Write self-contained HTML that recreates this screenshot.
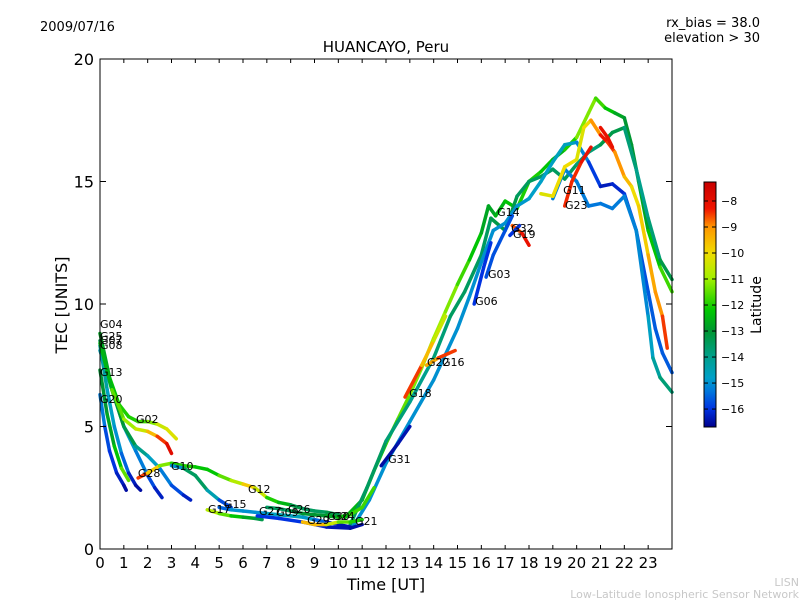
<!DOCTYPE html>
<html><head><meta charset="utf-8"><style>
body{margin:0;background:#fff;}
svg text{font-family:"DejaVu Sans","Liberation Sans",sans-serif;}
</style></head><body>
<svg id="chart" width="800" height="600" xmlns="http://www.w3.org/2000/svg">
<rect width="800" height="600" fill="#fff"/>
<text x="40" y="31" font-size="13">2009/07/16</text>
<text x="760" y="27" font-size="13" text-anchor="end">rx_bias = 38.0</text>
<text x="760" y="42" font-size="13" text-anchor="end">elevation &gt; 30</text>
<text x="386" y="52" font-size="15" text-anchor="middle">HUANCAYO, Peru</text>
<text transform="translate(67,305) rotate(-90)" font-size="16" text-anchor="middle">TEC [UNITS]</text>
<text x="386" y="590" font-size="16" text-anchor="middle">Time [UT]</text>
<text x="799" y="586" font-size="11" fill="#c8c8c8" text-anchor="end">LISN</text>
<text x="799" y="598" font-size="11" fill="#c8c8c8" text-anchor="end">Low-Latitude Ionospheric Sensor Network</text>
<g id="tracks"></g>
<g id="labels"></g>
<rect x="100" y="59" width="572" height="490" fill="none" stroke="#000" stroke-width="1"/>
<g id="axes"></g>
<defs><linearGradient id="jet" x1="0" y1="1" x2="0" y2="0" id2="g"></linearGradient></defs>
<g id="colorbar">
<rect x="704" y="182" width="12" height="245" fill="url(#jet)" stroke="#000" stroke-width="1"/>
<text transform="translate(761,305) rotate(-90)" font-size="14" text-anchor="middle">Latitude</text>
</g>
</svg>
<script>
const xTicks=[0,1,2,3,4,5,6,7,8,9,10,11,12,13,14,15,16,17,18,19,20,21,22,23];
const yTicks=[0,5,10,15,20];
const cbTicks=[-8,-9,-10,-11,-12,-13,-14,-15,-16];
const latMin=-16.69, latMax=-7.27;
const trackTimes=[
[10.3,11,11.5,12,12.5,13,13.5,14,14.5,15,15.5,16,16.3,16.6,17,17.5,18,18.5,19,19.5,20,20.5,20.8,21.2,21.6,22,22.3,22.6,23,23.5,24],
[10.5,11.2,12,13,14,14.7,15.3,16,16.4,17,17.5,18,18.5,19,19.5,20,20.5,21,21.5,22,22.5,23,23.5,24],
[10.6,11.3,12,13,14,15,15.5,16,16.5,17,17.5,18,18.5,19,19.5,20,20.5,21,21.5,22,22.5,23,23.3,23.6,24],
[19,19.5,20,20.5,21,21.5,22,22.5,23,23.2,23.5,24],
[18.5,19,19.5,20,20.3,20.6,21,21.3,21.6,22,22.3,22.6,23,23.3,23.6,23.8],
[12.8,13.5,14,14.5],[13.7,14.2,14.9],[11.8,12.5,13],[15.7,16.1,16.4],[16.2,16.5,17,17.3],
[17.3,17.7,18],[17.2,17.6],[19.5,19.8,20.2,20.6],[21,21.3,21.5],
[0,0.2,0.4,0.7,1.0,1.1],[0,0.3,0.6,0.9,1.2,1.5,1.7],[0,0.3,0.6,0.9,1.2],
[0,0.5,1,1.5,2,2.3,2.6],[0,0.5,1,1.5,2,2.5,3,3.5,3.8],
[0,0.4,0.8,1.2,1.6,2.0,2.4,2.8,3.2],[0,0.5,1,1.5,2,2.4,2.8,3.0],
[1.6,2,2.5,3,3.5,4,4.5,5,5.5,6,6.5,7,7.5,8,8.5,9,9.5,10],
[3,3.5,4,4.5,5,5.5],[4.5,5,5.5,6,6.5,6.8],
[5,5.5,6,6.5,7,7.5,8,8.5,9,9.5,10,10.5],[6.6,7.5,8.5,9.5,10.5,11],
[8.5,9,9.5,10,10.5,11],[7,7.5,8,8.5,9,9.5,10,10.5,11,11.5]
];
const trackTec=[
[1.3,2.0,3.2,4.3,5.3,6.3,7.4,8.6,9.7,10.8,11.8,12.9,14.0,13.6,14.2,13.9,15.0,15.4,15.9,16.3,16.8,17.8,18.4,18.0,17.8,17.6,16.5,15.0,13.0,11.5,10.5],
[1.0,2.5,4.4,6.0,7.8,9.5,10.5,12.0,13.5,13.0,14.4,15,15.2,15.5,15.1,15.7,16.2,16.5,17.0,17.2,15.5,13.5,11.8,11.0],
[0.9,2.0,3.5,5.2,6.9,9.0,10.3,11.7,13,13.3,14,14.3,15.0,15.8,16.5,16.6,15.8,14.8,14.9,14.5,13,10.5,9,8.0,7.2],
[14.3,15.5,15,14,14.1,13.9,14.4,13,9.5,7.8,7.0,6.4],
[14.5,14.4,15.6,15.9,17.2,17.5,16.9,16.6,16.2,15.2,14.8,14.0,12,10.5,9.5,8.2],
[6.2,7.5,8.5,9.5],[7.5,7.8,8.1],[3.4,4.3,5.0],[10,11.5,12.5],[11.1,12,13,13.6],
[13.2,12.9,12.4],[12.8,13.2],[14,15,15.8,16.4],[17.2,16.8,16.4],
[6.3,5.0,4.0,3.1,2.6,2.4],[8.3,6.5,5.0,3.9,3.1,2.6,2.4],[7.3,5.5,4.2,3.3,2.8],
[8.1,6.5,5.0,4.0,3.0,2.5,2.1],[8.5,6.5,5.0,4.2,3.8,3.3,2.6,2.2,2.0],
[8.8,7,5.9,5.4,5.2,5.2,5.1,4.9,4.5],[8.4,6.5,5.3,4.9,4.8,4.6,4.3,3.9],
[2.9,3.1,3.4,3.5,3.4,3.35,3.25,3.0,2.8,2.65,2.5,2.1,1.9,1.8,1.65,1.55,1.5,1.4],
[3.4,3.3,3.0,2.4,2.0,1.7],[1.6,1.45,1.35,1.3,1.25,1.2],
[1.7,1.6,1.55,1.5,1.45,1.4,1.35,1.3,1.2,1.1,1.0,0.9],[1.35,1.25,1.1,0.9,0.85,1.0],
[1.1,1.0,1.0,1.1,1.1,1.2],[1.7,1.65,1.55,1.45,1.4,1.35,1.3,1.4,1.7,2.5]
];
const trackLat=[
[-12.5,-12.5,-12,-12,-11.5,-11.5,-11,-11,-11,-11.5,-12,-12.5,-13,-12.5,-12.5,-12,-12,-12,-12.5,-12.5,-11.5,-11,-11.5,-12,-12.5,-13,-13,-13,-12.5,-12,-11.5],
[-13.5,-13.5,-13.5,-14,-14,-13.5,-13.5,-13.5,-13.5,-13,-13.5,-13.5,-13.5,-13.5,-13.5,-13.5,-14,-13.5,-13,-13.5,-14,-14,-13.5,-13],
[-15,-15,-15,-15,-15,-15,-15,-15,-15,-15,-15,-14.8,-14.8,-14.8,-14.5,-14.8,-15.5,-16.3,-16.3,-16,-15.8,-15.6,-15.6,-15.6,-15.6],
[-15.2,-15.2,-15.2,-15.3,-15.3,-15.3,-15.2,-15.2,-15,-14.5,-14,-13.5],
[-10.5,-10,-10,-10,-10.5,-9.5,-8.5,-8,-9,-9,-10,-10,-9.5,-9,-9,-8],
[-8,-9,-10,-11],[-9.5,-9,-8],[-16.5,-16.5,-16.3],[-16,-16,-16],[-15.7,-15.7,-15.7,-15.7],
[-9,-8.3,-8],[-16,-16],[-8.3,-8.5,-8.3,-8],[-8,-8.3,-8],
[-15,-15.5,-16,-16,-16.5,-16.5],[-14,-14.5,-15,-15,-16,-16.5,-16.5],[-13,-13,-12.5,-12,-11],
[-14.5,-14.5,-14.8,-15,-15.5,-16,-16.5],[-13.5,-13,-13,-13.5,-14.5,-15,-15.5,-16,-16.5],
[-13,-12.5,-12,-12,-12,-11.5,-11,-10,-10.5],[-13,-12,-11,-11,-10,-9,-8,-7.8],
[-8,-9,-10.5,-12,-12,-12,-12.5,-12,-11,-10.5,-9,-12,-12,-13,-13.5,-13.5,-13.5,-13],
[-16,-14,-13,-14,-15,-16.5],[-10.5,-11,-12,-12.5,-13,-13.5],
[-16,-15,-15,-15,-15,-14.5,-14.5,-14.8,-15,-16,-16.5,-16.3],[-16,-16,-16,-16.3,-16.5,-16.5],
[-10,-9,-10,-11,-12,-12],[-13.5,-13.5,-13.5,-13,-13,-13,-12.5,-12,-11.5,-12]
];
const labelNames=["G04","G25","G07","G08","G13","G20","G02","G28","G10","G12","G15","G17","G27","G09","G26","G29","G30","G24","G21","G31","G18","G22","G16","G06","G03","G14","G32","G19","G11","G23"];
const labelTimes=[0,0,0,0,0,0,1.51,1.59,2.98,6.21,5.20,4.53,6.67,7.39,7.89,8.69,9.53,9.74,10.7,12.09,12.97,13.72,14.35,15.74,16.28,16.66,17.25,17.33,19.43,19.51];
const labelTec=[9.18,8.69,8.53,8.33,7.22,6.12,5.31,3.10,3.39,2.45,1.84,1.63,1.55,1.51,1.63,1.18,1.35,1.35,1.14,3.67,6.37,7.63,7.63,10.12,11.22,13.76,13.1,12.86,14.65,14.04];

// custom colormap stops (latitude -> rgb), styling only
const cmapStops=[[-16.69,[0,0,140]],[-16,[0,50,225]],[-15.3,[0,120,220]],[-14.8,[0,160,200]],[-14,[0,160,140]],[-13,[0,150,50]],[-12.2,[0,200,0]],[-11,[160,240,0]],[-10,[240,220,0]],[-9,[255,150,0]],[-8.3,[240,20,0]],[-7.27,[200,0,0]]];
const X0=100,X1=672,Y0=549,Y1=59;
function xs(t){return X0+(X1-X0)*t/24;}
function ys(v){return Y0-(Y0-Y1)*v/20;}
function cby(l){return 182+245*(latMax-l)/(latMax-latMin);}
function jet(l){
 if(l<=cmapStops[0][0]) return `rgb(${cmapStops[0][1]})`;
 for(let i=0;i<cmapStops.length-1;i++){const a=cmapStops[i],b=cmapStops[i+1];
  if(l<=b[0]){const f=(l-a[0])/(b[0]-a[0]);const c=a[1].map((v,k)=>Math.round(v+(b[1][k]-v)*f));return `rgb(${c})`;}}
 return `rgb(${cmapStops[cmapStops.length-1][1]})`;}
const NS="http://www.w3.org/2000/svg";
const grad=document.getElementById('jet');
cmapStops.forEach(s=>{const st=document.createElementNS(NS,'stop');
 st.setAttribute('offset',(s[0]-latMin)/(latMax-latMin));st.setAttribute('stop-color',`rgb(${s[1]})`);grad.appendChild(st);});
const tg=document.getElementById('tracks');
for(let i=0;i<trackTimes.length;i++){
 const g=document.createElementNS(NS,'g');
 
 
 const T=trackTimes[i],V=trackTec[i],L=trackLat[i];
 for(let j=0;j<T.length-1;j++){
  const ln=document.createElementNS(NS,'line');
  
  
  ln.setAttribute('x1',xs(T[j]));ln.setAttribute('y1',ys(V[j]));
  ln.setAttribute('x2',xs(T[j+1]));ln.setAttribute('y2',ys(V[j+1]));
  ln.setAttribute('stroke',jet((L[j]+L[j+1])/2));
  ln.setAttribute('stroke-width','3.5');ln.setAttribute('stroke-linecap','round');
  g.appendChild(ln);
 }
 tg.appendChild(g);
}
const lg=document.getElementById('labels');
for(let i=0;i<labelNames.length;i++){
 const t=document.createElementNS(NS,'text');
 
 
 t.setAttribute('x',xs(labelTimes[i]));t.setAttribute('y',ys(labelTec[i])+4);
 t.setAttribute('font-size','11');t.textContent=labelNames[i];
 lg.appendChild(t);
}
const ax=document.getElementById('axes');
function mk(tag,attrs,name){const e=document.createElementNS(NS,tag);for(const k in attrs)e.setAttribute(k,attrs[k]);
 
 
 return e;}
xTicks.forEach(v=>{const x=xs(v);
 ax.appendChild(mk('line',{x1:x,y1:Y0,x2:x,y2:Y0-4,stroke:'#000'},'x-tick'));
 ax.appendChild(mk('line',{x1:x,y1:Y1,x2:x,y2:Y1+4,stroke:'#000'},'x-tick-top'));
 const t=mk('text',{x:x,y:568,'font-size':'15','text-anchor':'middle'},'x-tick-label');t.textContent=v;ax.appendChild(t);});
yTicks.forEach(v=>{const y=ys(v);
 ax.appendChild(mk('line',{x1:X0,y1:y,x2:X0+6,y2:y,stroke:'#000'},'y-tick'));
 ax.appendChild(mk('line',{x1:X1,y1:y,x2:X1-6,y2:y,stroke:'#000'},'y-tick-right'));
 const t=mk('text',{x:94,y:y+6,'font-size':'16','text-anchor':'end'},'y-tick-label');t.textContent=v;ax.appendChild(t);});
const cb=document.getElementById('colorbar');
cbTicks.forEach(v=>{const y=cby(v);
 cb.appendChild(mk('line',{x1:704,y1:y,x2:708,y2:y,stroke:'#000'},'colorbar-tick'));
 cb.appendChild(mk('line',{x1:716,y1:y,x2:712,y2:y,stroke:'#000'},'colorbar-tick-right'));
 const t=mk('text',{x:721,y:y+4,'font-size':'11'},'colorbar-tick-label');t.textContent='\u2212'+Math.abs(v);cb.appendChild(t);});
</script>
</body></html>
